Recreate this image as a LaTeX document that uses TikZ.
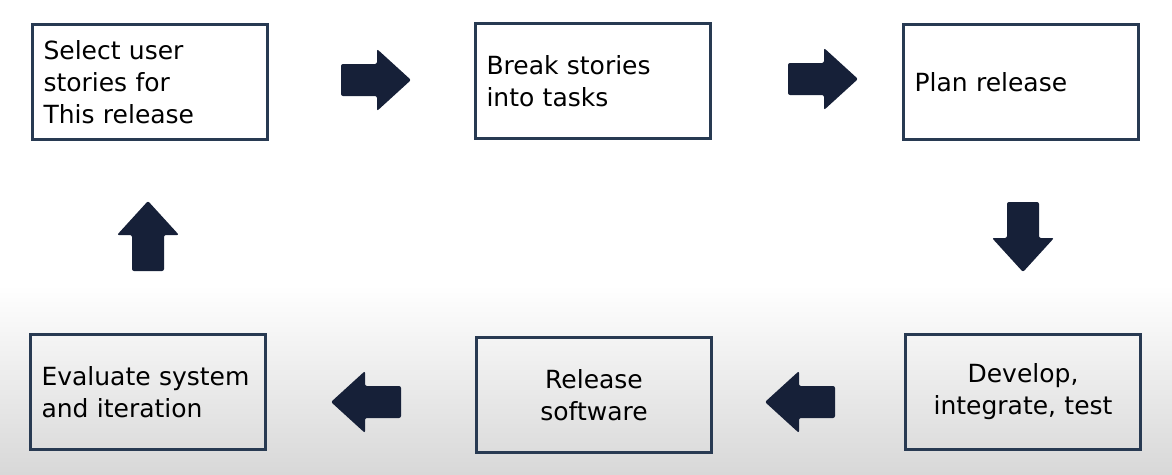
\documentclass[tikz,border=0pt]{standalone}
\usepackage{fontspec}
\setmainfont{DejaVu Sans}
\usetikzlibrary{calc}
\definecolor{boxline}{RGB}{40,58,82}
\definecolor{arrowfill}{RGB}{22,32,56}
\definecolor{lowgray}{RGB}{216,216,216}
\tikzstyle{stepbox} = [draw=boxline, line width=3pt, minimum width=235pt, minimum height=115pt, text width=213pt, inner sep=11pt, align=left, font=\fontsize{25}{32}\selectfont]
\tikzset{blockarr/.pic={\fill[arrowfill, rounded corners=2pt] (-35,-16) -- (1,-16) -- (1,-31) -- (35,0) -- (1,31) -- (1,16) -- (-35,16) -- cycle;}}

\begin{document}
\begin{tikzpicture}[x=1pt, y=-1pt]
        % Background
        \fill[white] (0,0) rectangle (1172,474);
        \shade[top color=white, bottom color=lowgray] (0,285) rectangle (1172,474);
        \useasboundingbox (0,0) rectangle (1172,474);

        % Node positions
        \node[stepbox] (sel) at (150,82) {Select user\\stories for\\This release};
        \node[stepbox] (brk) at (593,81) {Break stories\\into tasks};
        \node[stepbox] (pln) at (1021,82) {Plan release};
        \node[stepbox, align=center] (dev) at (1023,392) {Develop,\\integrate, test};
        \node[stepbox, align=center] (rel) at (594,395) {Release\\software};
        \node[stepbox] (eva) at (148,392) {Evaluate system\\and iteration};

        % Arrows
        \pic at (376,80) {blockarr};
        \pic at (823,79) {blockarr};
        \pic[rotate=-90] at (1023,237) {blockarr};
        \pic[rotate=180] at (800,402) {blockarr};
        \pic[rotate=180] at (366,402) {blockarr};
        \pic[rotate=90] at (148,236) {blockarr};
      \end{tikzpicture}
\end{document}
